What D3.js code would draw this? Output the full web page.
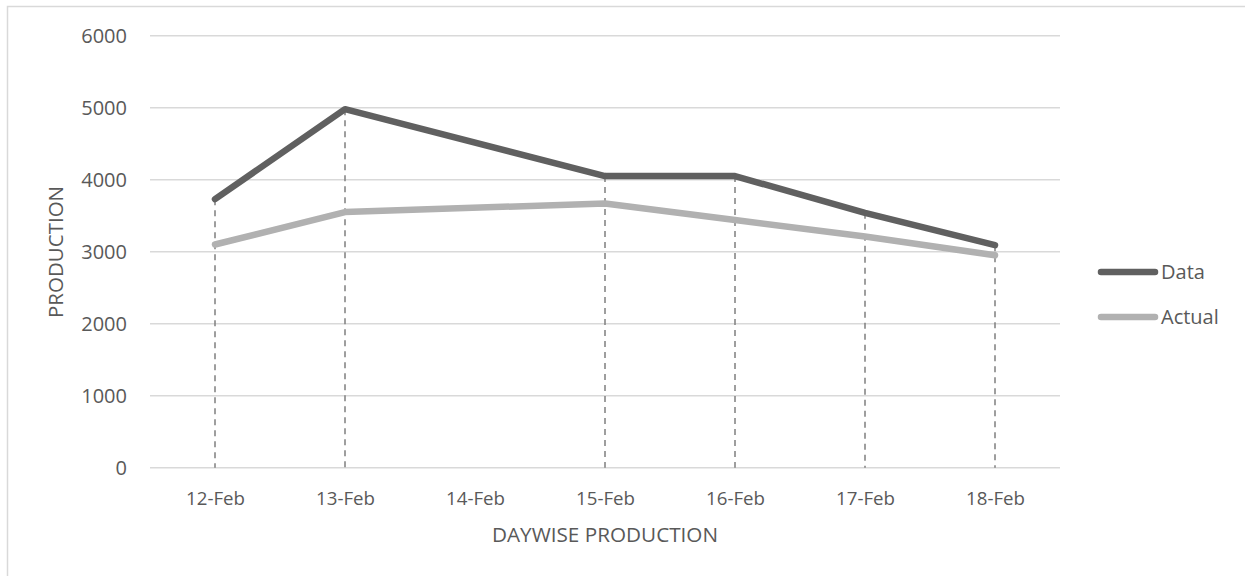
<!DOCTYPE html>
<html>
<head>
<meta charset="utf-8">
<script src="https://cdn.jsdelivr.net/npm/d3@7"></script>
<style>
  html, body { margin: 0; padding: 0; background: #fff; }
  svg { display: block; }
  text { font-family: "Open Sans", "Noto Sans", sans-serif; fill: #595959; }
</style>
</head>
<body>
<svg id="chart" width="1245" height="576"></svg>
<script>
// Daywise production: planned ("Data") vs actual output
const categories = ["12-Feb", "13-Feb", "14-Feb", "15-Feb", "16-Feb", "17-Feb", "18-Feb"];
const dataValues = [3730, 4980, null, 4050, 4050, 3540, 3090];
const actualValues = [3100, 3550, null, 3670, 3440, 3210, 2950];
const yTicks = [0, 1000, 2000, 3000, 4000, 5000, 6000];
const seriesNames = ["Data", "Actual"];
const seriesColors = ["#606060", "#b1b1b1"];

const svg = d3.select("#chart");

// chart area frame
svg.append("rect")
  .attr("x", 7.5).attr("y", 6.5)
  .attr("width", 1300).attr("height", 700)
  .attr("fill", "none")
  .attr("stroke", "#d9d9d9")
  .attr("stroke-width", 1.5);

const x = d3.scalePoint().domain(categories).range([150, 1060]).padding(0.5);
const y = d3.scaleLinear().domain([0, 6000]).range([467.7, 35.7]);

// horizontal gridlines
svg.append("g")
  .selectAll("line")
  .data(yTicks)
  .join("line")
  .attr("x1", 150).attr("x2", 1060)
  .attr("y1", d => y(d)).attr("y2", d => y(d))
  .attr("stroke", "#d9d9d9")
  .attr("stroke-width", 1.5);

// y axis labels
const yAxis = svg.append("g")
  .attr("transform", "translate(127,0)")
  .call(d3.axisLeft(y).tickValues(yTicks).tickSize(0).tickPadding(0).tickFormat(d3.format("d")));
yAxis.select(".domain").remove();
yAxis.selectAll("text")
  .attr("font-size", 20)
  .attr("font-family", "'Open Sans', 'Noto Sans', sans-serif")
  .attr("fill", "#595959");

// x axis labels
const xAxis = svg.append("g")
  .attr("transform", `translate(0,${y(0)})`)
  .call(d3.axisBottom(x).tickSize(0).tickPadding(24));
xAxis.select(".domain").remove();
xAxis.selectAll("text")
  .attr("font-size", 18.7)
  .attr("font-family", "'Open Sans', 'Noto Sans', sans-serif")
  .attr("fill", "#595959");

// axis titles
svg.append("text")
  .attr("x", 605).attr("y", 542)
  .attr("text-anchor", "middle")
  .attr("font-size", 20.7)
  .text("DAYWISE PRODUCTION");

svg.append("text")
  .attr("transform", "translate(63,252) rotate(-90)")
  .attr("text-anchor", "middle")
  .attr("font-size", 20.5)
  .text("PRODUCTION");

// drop lines from the highest value of each category down to the axis
const dropData = categories.map((c, i) => {
  const vals = [dataValues[i], actualValues[i]].filter(v => v != null);
  return { c, top: vals.length ? d3.max(vals) : null };
}).filter(d => d.top != null);

svg.append("g")
  .selectAll("line")
  .data(dropData)
  .join("line")
  .attr("x1", d => x(d.c)).attr("x2", d => x(d.c))
  .attr("y1", d => y(d.top)).attr("y2", y(0))
  .attr("stroke", "#7f7f7f")
  .attr("stroke-width", 1.5)
  .attr("stroke-dasharray", "6,5");

// series lines (gaps are spanned)
const series = [dataValues, actualValues];
const line = d3.line()
  .x(d => x(d.c))
  .y(d => y(d.v));

// draw Actual first so Data sits on top
[1, 0].forEach(si => {
  const pts = categories.map((c, i) => ({ c, v: series[si][i] })).filter(d => d.v != null);
  svg.append("path")
    .datum(pts)
    .attr("d", line)
    .attr("fill", "none")
    .attr("stroke", seriesColors[si])
    .attr("stroke-width", 6.5)
    .attr("stroke-linejoin", "round")
    .attr("stroke-linecap", "round");
});

// legend
const legendY = [272, 317];
const legend = svg.append("g");
seriesNames.forEach((name, i) => {
  legend.append("line")
    .attr("x1", 1101).attr("x2", 1155)
    .attr("y1", legendY[i]).attr("y2", legendY[i])
    .attr("stroke", seriesColors[i])
    .attr("stroke-width", 6.5)
    .attr("stroke-linecap", "round");
  legend.append("text")
    .attr("x", 1161).attr("y", legendY[i])
    .attr("dy", "0.35em")
    .attr("font-size", 20)
    .text(name);
});
</script>
</body>
</html>
